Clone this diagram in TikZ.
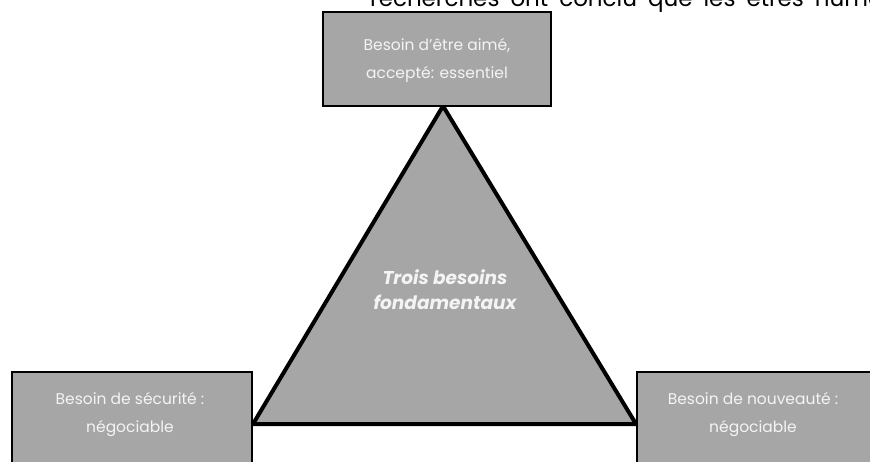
\documentclass[tikz,border=0pt]{standalone}
\usepackage{fontspec}
\setmainfont{Poppins}
\usepackage{xcolor}
\usetikzlibrary{positioning}
\definecolor{boxgray}{HTML}{A6A6A6}
\definecolor{softwhite}{HTML}{F4F4F4}
\tikzset{needbox/.style={draw,line width=1.2pt,fill=boxgray,inner sep=0pt},
  needtext/.style={align=center,text=softwhite,font=\fontsize{15.5}{28}\selectfont,inner sep=0pt},
  tri/.style={fill=boxgray,draw=black,line width=4pt,line join=miter}}
\begin{document}
\begin{tikzpicture}[x=1pt,y=-1pt]
\useasboundingbox (0,0) rectangle (870,462);
\clip (0,0) rectangle (870,462);
\node[anchor=base west,font=\fontsize{23}{24}\selectfont,inner sep=0pt] (cut) at (370,7) {\spaceskip=11pt recherches ont conclu que les êtres humains};
\coordinate (apex) at (443,106);
\coordinate (bl) at (253,424);
\coordinate (br) at (636,424);
\draw[tri] (apex)--(bl)--(br)--cycle;
\node[needbox,minimum width=228,minimum height=94] (love) at (437,59){};
\node[needbox,minimum width=240,minimum height=110] (safe) at (132,427){};
\node[needbox,minimum width=270,minimum height=110] (new) at (772,427){};
\node[needtext] (lovet) at (437,60){Besoin d’être aimé,\\accepté: essentiel};
\node[needtext] (safet) at (130,415){Besoin de sécurité :\\négociable};
\node[needtext] (newt) at (753,415){Besoin de nouveauté :\\négociable};
\node[needtext,font=\fontsize{18.5}{25}\selectfont\bfseries\itshape] (core) at (445,290){Trois besoins\\fondamentaux};
\end{tikzpicture}
\end{document}
